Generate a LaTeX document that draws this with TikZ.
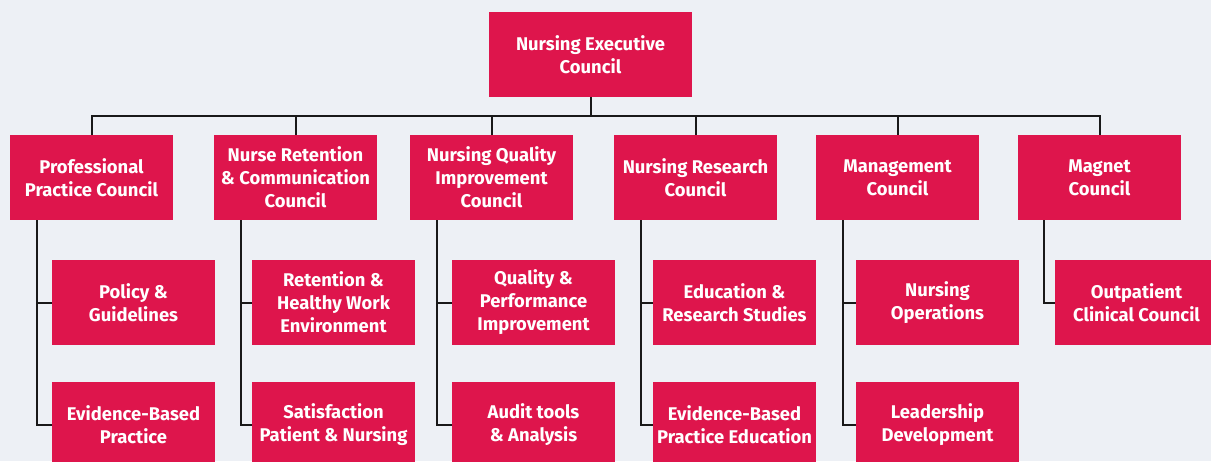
\documentclass[tikz,border=0pt]{standalone}
\usepackage{fontspec}
\setmainfont{Fira Sans}
\usetikzlibrary{positioning}
\definecolor{council}{RGB}{222,21,76}
\definecolor{paper}{RGB}{237,240,245}

\begin{document}
\begin{tikzpicture}[x=0.5pt, y=-0.5pt,
  box/.style={fill=council, text=white, align=center, inner sep=0pt,
    font=\bfseries\fontsize{9.2}{11.5}\selectfont,
    minimum width=81.5pt, minimum height=42.5pt},
  link/.style={draw=black!90, line width=1pt}]

% parameters (pixels)
\def\rowA{177.5}   % councils
\def\rowB{302.5}   % first sub-council row
\def\rowC{424.5}   % second sub-council row
\def\busy{116}     % horizontal bus

% background
\fill[paper] (0,0) rectangle (1211,461);
\useasboundingbox (0,0) rectangle (1211,461);

% --- executive ---
\node[box, minimum width=101.5pt] (exec) at (590.5,54.5) {Nursing Executive\\Council};

% --- councils ---
\foreach \name/\x/\txt in {
    prof/91.5/{Professional\\Practice Council},
    retain/295.5/{Nurse Retention\\\& Communication\\Council},
    quality/491.5/{Nursing Quality\\Improvement\\Council},
    research/695.5/{Nursing Research\\Council},
    manage/897.5/{Management\\Council},
    magnet/1099.5/{Magnet\\Council}}
  \node[box] (\name) at (\x,\rowA) {\txt};

% --- sub-councils ---
\node[box] (policy)   at (133.5,\rowB)  {Policy \&\\Guidelines};
\node[box] (ebp)      at (133.5,\rowC)  {Evidence-Based\\Practice};
\node[box] (healthy)  at (333.5,\rowB)  {Retention \&\\Healthy Work\\Environment};
\node[box] (satisfy)  at (333.5,\rowC)  {Satisfaction\\Patient \& Nursing};
\node[box] (perform)  at (533.5,\rowB)  {Quality \&\\Performance\\Improvement};
\node[box] (audit)    at (533.5,\rowC)  {Audit tools\\\& Analysis};
\node[box] (studies)  at (734.5,\rowB)  {Education \&\\Research Studies};
\node[box] (ebpedu)   at (734.5,\rowC)  {Evidence-Based\\Practice Education};
\node[box] (ops)      at (937.5,\rowB)  {Nursing\\Operations};
\node[box] (lead)     at (937.5,\rowC)  {Leadership\\Development};
\node[box] (outpat)   at (1136.5,\rowB) {Outpatient\\Clinical Council};

% --- bus to councils ---
\coordinate (bus) at (0,\busy);
\draw[link] (exec.south) -- (exec.south |- bus);
\draw[link] (prof.north) -- (prof.north |- bus) -| (magnet.north);
\foreach \n in {retain,quality,research,manage}
  \draw[link] (\n.north) -- (\n.north |- bus);

% --- trunks to sub-councils ---
\foreach \p/\a/\b in {prof/policy/ebp, retain/healthy/satisfy, quality/perform/audit,
    research/studies/ebpedu, manage/ops/lead}{
  \draw[link] ([xshift=-27.25pt]\p.south) |- (\a.west);
  \draw[link] ([xshift=-27.25pt]\p.south) |- (\b.west);
}
\draw[link] ([xshift=-27.75pt]magnet.south) |- (outpat.west);

\end{tikzpicture}
\end{document}
